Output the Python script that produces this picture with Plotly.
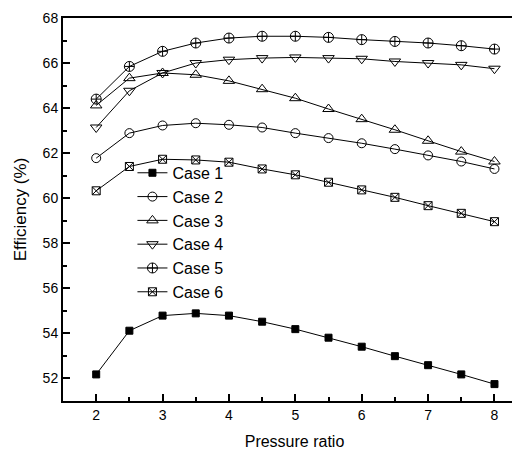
import plotly.graph_objects as go

pressure_ratio = [2, 2.5, 3, 3.5, 4, 4.5, 5, 5.5, 6, 6.5, 7, 7.5, 8]
case1 = [52.18, 54.12, 54.79, 54.89, 54.79, 54.52, 54.19, 53.81, 53.41, 52.99, 52.59, 52.18, 51.75]
case2 = [61.78, 62.89, 63.23, 63.33, 63.26, 63.14, 62.89, 62.67, 62.44, 62.18, 61.90, 61.63, 61.30]
case3 = [64.12, 65.33, 65.56, 65.48, 65.21, 64.84, 64.44, 63.96, 63.51, 63.04, 62.55, 62.07, 61.63]
case4 = [63.14, 64.77, 65.56, 66.00, 66.15, 66.22, 66.25, 66.22, 66.19, 66.07, 66.00, 65.92, 65.75]
case5 = [64.40, 65.85, 66.52, 66.89, 67.11, 67.19, 67.19, 67.14, 67.04, 66.96, 66.89, 66.77, 66.62]
case6 = [60.33, 61.41, 61.73, 61.70, 61.60, 61.30, 61.04, 60.71, 60.37, 60.04, 59.67, 59.33, 58.96]

names = ["Case 1", "Case 2", "Case 3", "Case 4", "Case 5", "Case 6"]
series = [case1, case2, case3, case4, case5, case6]
symbols = ["square", "circle-open", "triangle-up-open", "triangle-down-open",
           "circle-cross-open", "square-x-open"]
sizes = [7, 9, 10, 10, 10, 8]

fig = go.Figure()
for n, s, sym, sz in zip(names, series, symbols, sizes):
    fig.add_trace(go.Scatter(
        x=pressure_ratio, y=s, name=n, mode="lines+markers",
        line=dict(color="black", width=1),
        marker=dict(symbol=sym, size=sz, color="black",
                    line=dict(color="black", width=1)),
    ))

axis_common = dict(
    showgrid=False, zeroline=False, showline=True, linecolor="black",
    linewidth=2, mirror=True, ticks="inside", ticklen=7, tickwidth=1.5,
    tickcolor="black", tickfont=dict(family="Liberation Sans, Arial", size=14, color="black"),
)

fig.update_xaxes(range=[1.5, 8.475], tickvals=[2, 3, 4, 5, 6, 7, 8],
                 minor=dict(ticks="inside", ticklen=4, dtick=0.5, tick0=1.5, tickcolor="black"),
                 title=dict(text="Pressure ratio", font=dict(family="Liberation Sans, Arial", size=16, color="black"), standoff=14),
                 **axis_common)
fig.update_yaxes(range=[51, 68], tickvals=[52, 54, 56, 58, 60, 62, 64, 66, 68],
                 minor=dict(ticks="inside", ticklen=4, dtick=1, tick0=51, tickcolor="black"),
                 title=dict(text="Efficiency (%)", font=dict(family="Liberation Sans, Arial", size=17, color="black"), standoff=12),
                 **axis_common)

fig.update_layout(
    width=520, height=452,
    margin=dict(l=55, r=0, t=10, b=59),
    paper_bgcolor="white", plot_bgcolor="white",
    showlegend=True,
    legend=dict(x=0.15, y=0.64, xanchor="left", yanchor="top",
                bgcolor="rgba(0,0,0,0)",
                font=dict(family="Liberation Sans, Arial", size=16, color="black"),
                tracegroupgap=0),
)

fig.write_html("out.html")
